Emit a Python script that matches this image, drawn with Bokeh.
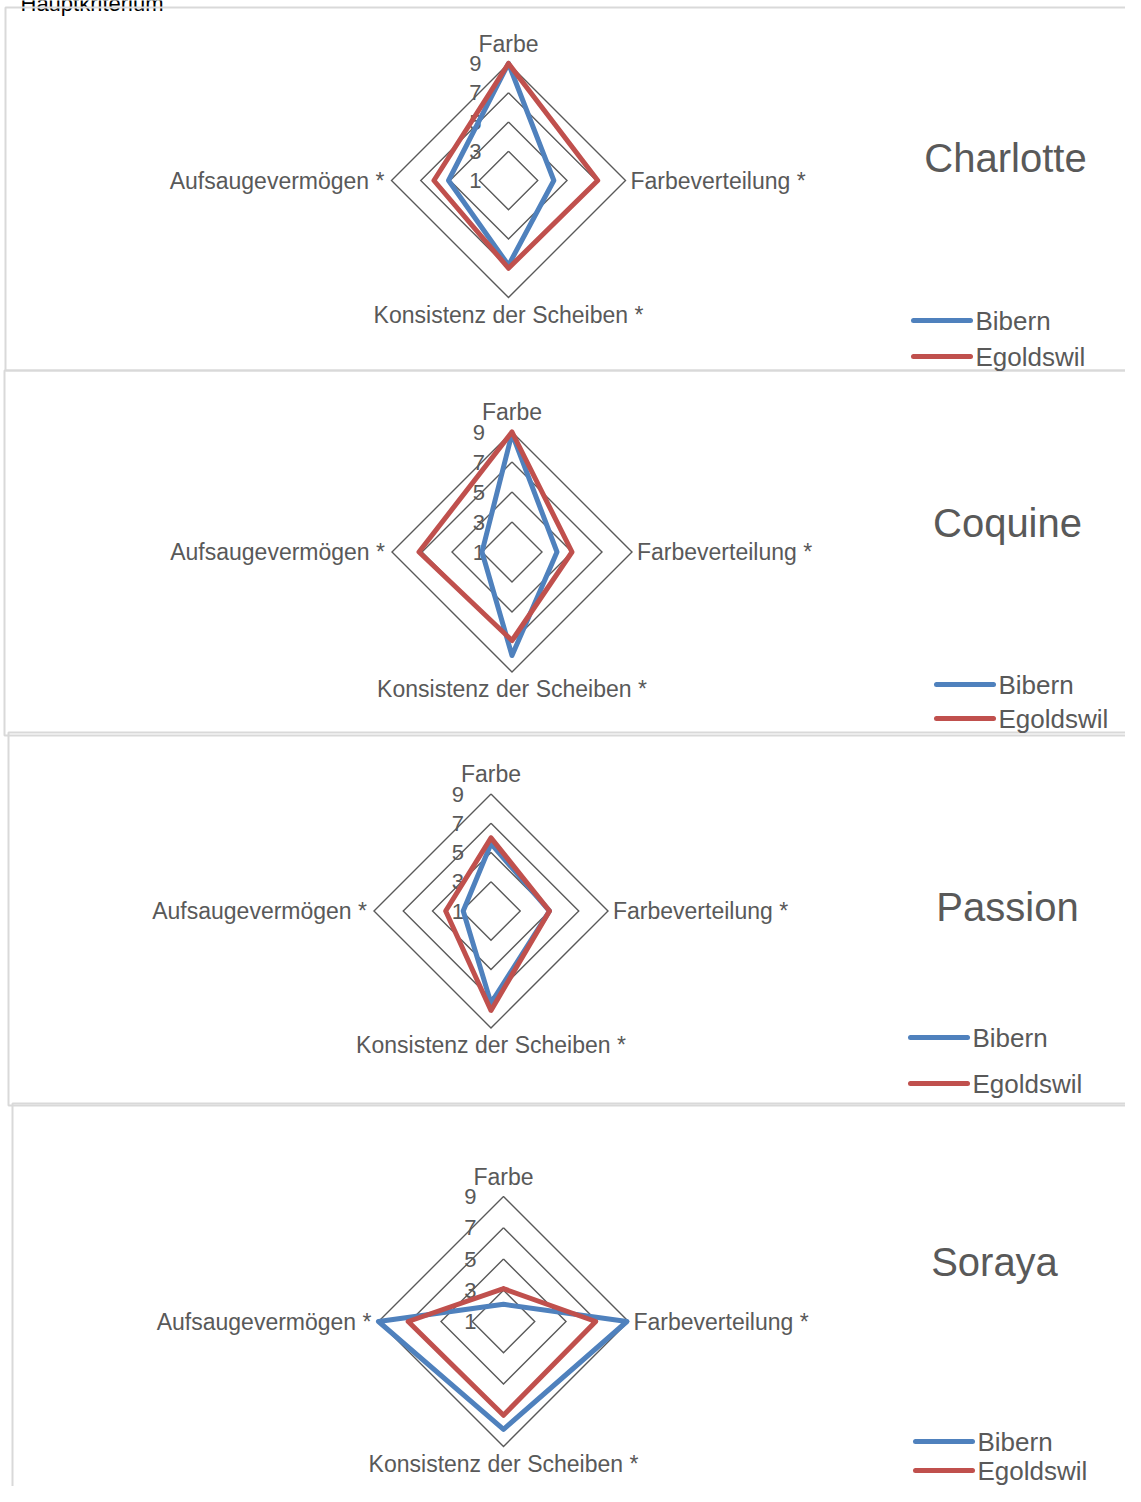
import numpy as np
from bokeh.plotting import figure
from bokeh.models import Range1d
from bokeh.core.properties import value
from bokeh.embed import file_html
from bokeh.resources import INLINE

# ---------------- data ----------------
chart_title = "Hauptkriterium"
criteria = ["Farbe", "Farbeverteilung *", "Konsistenz der Scheiben *", "Aufsaugevermögen *"]
varieties = ["Charlotte", "Coquine", "Passion", "Soraya"]
series_names = ["Bibern", "Egoldswil"]
tick_labels = ["1", "3", "5", "7", "9"]
tick_values = [1, 3, 5, 7, 9]
ring_values = [3, 5, 7, 9]
axis_min, axis_max = 1, 9

charlotte_bibern = [9.0, 4.1, 6.8, 5.1]
charlotte_egoldswil = [9.0, 7.1, 7.0, 6.1]
coquine_bibern = [8.9, 4.0, 7.9, 3.0]
coquine_egoldswil = [9.0, 5.0, 6.9, 7.2]
passion_bibern = [5.6, 5.0, 7.3, 2.9]
passion_egoldswil = [6.0, 5.0, 7.8, 4.1]
soraya_bibern = [2.1, 8.9, 7.9, 9.0]
soraya_egoldswil = [3.1, 6.9, 7.0, 7.1]

series_by_variety = [
    (charlotte_bibern, charlotte_egoldswil),
    (coquine_bibern, coquine_egoldswil),
    (passion_bibern, passion_egoldswil),
    (soraya_bibern, soraya_egoldswil),
]

# ---------------- styling / layout ----------------
series_colors = ["#4F81BD", "#C0504D"]
text_color = "#595959"
ring_color = "#595959"
panel_color = "#D9D9D9"
FONT = value("Liberation Sans")

W, H = 1125, 1486

layout = [
    dict(cx=508, cy=180, R=117, box=(5, 7, 1300, 370), title=(1005, 157),
         leg_x=913, leg_y=(320, 356)),
    dict(cx=511.5, cy=551.5, R=120, box=(4, 370, 1300, 735), title=(1007, 522),
         leg_x=936, leg_y=(684, 718)),
    dict(cx=490.5, cy=910.5, R=117, box=(8, 732, 1300, 1105), title=(1007, 906),
         leg_x=910, leg_y=(1037, 1083)),
    dict(cx=503, cy=1321, R=125, box=(12, 1103, 1300, 1600), title=(994, 1261),
         leg_x=915, leg_y=(1441, 1470)),
]

angles = np.deg2rad([0, 90, 180, 270])

p = figure(width=W, height=H, output_backend="svg", toolbar_location=None,
           x_range=Range1d(0, W), y_range=Range1d(H, 0),
           min_border=0, outline_line_color=None)
p.axis.visible = False
p.grid.visible = False
p.background_fill_color = "white"


def radial(v, R):
    return (np.asarray(v, dtype=float) - axis_min) / (axis_max - axis_min) * R


def polygon(vals, L):
    r = radial(vals, L["R"])
    xs = L["cx"] + r * np.sin(angles)
    ys = L["cy"] - r * np.cos(angles)
    return list(xs) + [xs[0]], list(ys) + [ys[0]]


# cut-off chart title at the very top (as in the reference)
p.text(x=[20], y=[3], text=[chart_title], text_font=FONT, text_font_size="22px",
       text_color="#000000", text_align="left", text_baseline="alphabetic")

for i, L in enumerate(layout):
    l, t, r_, b = L["box"]
    p.quad(left=l, right=r_, top=t, bottom=b, fill_color=None,
           line_color=panel_color, line_width=2)

for i, L in enumerate(layout):
    cx, cy, R = L["cx"], L["cy"], L["R"]
    # rings
    for rv in ring_values:
        xs, ys = polygon([rv] * 4, L)
        p.line(xs, ys, line_color=ring_color, line_width=1.4, line_join="miter")
    # tick labels
    tr = radial(tick_values, R)
    p.text(x=[cx - 27] * len(tick_labels), y=list(cy - tr), text=tick_labels,
           text_font=FONT, text_font_size="22px", text_color=text_color,
           text_align="right", text_baseline="middle")
    # category labels
    p.text(x=[cx], y=[cy - R - 20], text=[criteria[0]], text_font=FONT,
           text_font_size="23px", text_color=text_color,
           text_align="center", text_baseline="middle")
    p.text(x=[cx + R + 5], y=[cy], text=[criteria[1]], text_font=FONT,
           text_font_size="23px", text_color=text_color,
           text_align="left", text_baseline="middle")
    p.text(x=[cx], y=[cy + R + 17], text=[criteria[2]], text_font=FONT,
           text_font_size="23px", text_color=text_color,
           text_align="center", text_baseline="middle")
    p.text(x=[cx - R - 7], y=[cy], text=[criteria[3]], text_font=FONT,
           text_font_size="23px", text_color=text_color,
           text_align="right", text_baseline="middle")
    # series
    for s, vals in enumerate(series_by_variety[i]):
        xs, ys = polygon(vals, L)
        p.line(xs, ys, line_color=series_colors[s], line_width=5,
               line_join="round", line_cap="round")
    # title
    tx, ty = L["title"]
    p.text(x=[tx], y=[ty], text=[varieties[i]], text_font=FONT,
           text_font_size="40px", text_color=text_color,
           text_align="center", text_baseline="middle")
    # legend
    for s, name in enumerate(series_names):
        ly = L["leg_y"][s]
        p.segment(x0=[L["leg_x"]], y0=[ly], x1=[L["leg_x"] + 57], y1=[ly],
                  line_color=series_colors[s], line_width=5, line_cap="round")
        p.text(x=[L["leg_x"] + 62], y=[ly], text=[name], text_font=FONT,
               text_font_size="26px", text_color=text_color,
               text_align="left", text_baseline="middle")

open("out.html", "w").write(file_html(p, INLINE))
